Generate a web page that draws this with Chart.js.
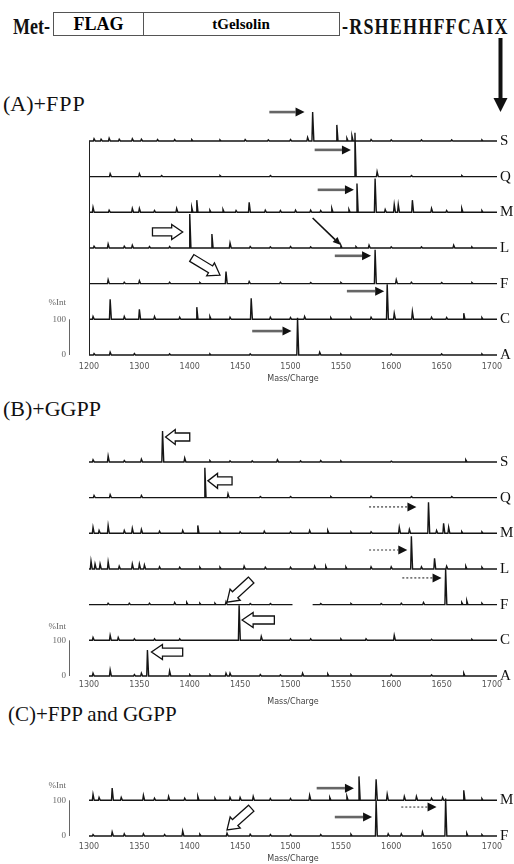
<!DOCTYPE html>
<html>
<head>
<meta charset="utf-8">
<script src="https://cdn.jsdelivr.net/npm/chart.js@4.4.0/dist/chart.umd.min.js"></script>
<style>
  body { margin: 0; width: 514px; height: 864px; background: #fff; position: relative; overflow: hidden; font-family: "Liberation Serif", serif; }
  .t { position: absolute; white-space: nowrap; line-height: 1; color: #111; }
  .box { position: absolute; border: 1px solid #555; box-sizing: border-box; font: bold 15px "Liberation Serif"; text-align: center; }
  canvas { position: absolute; left: 0; }
</style>
</head>
<body>

<!-- construct diagram -->
<div class="t" style="left:13px;top:14px;font:bold 18px 'Liberation Serif';transform:scaleY(1.25);transform-origin:left top;">Met-</div>
<div class="box" style="left:53px;top:12px;width:91px;height:24px;line-height:22px;font-size:18px;">FLAG</div>
<div class="box" style="left:143px;top:12px;width:197px;height:24px;line-height:22px;border-left:none;">tGelsolin</div>
<div class="t" style="left:342px;top:14px;font:bold 18px 'Liberation Serif';letter-spacing:1.2px;transform:scaleY(1.25);transform-origin:left top;">-RSHEHHFFCAIX</div>
<svg style="position:absolute;left:0;top:0" width="514" height="120">
  <line x1="500.5" y1="38" x2="500.5" y2="100" stroke="#111" stroke-width="4"/>
  <polygon points="493.5,98 507.5,98 500.5,112" fill="#111"/>
</svg>

<div class="t" style="left:3px;top:93px;font-size:22px;">(A)+<span style="letter-spacing:1px">FPP</span></div>
<div class="t" style="left:3px;top:398px;font-size:22px;">(B)+GGPP</div>
<div class="t" style="left:8px;top:704px;font-size:21px;">(C)+FPP and GGPP</div>

<canvas id="fpp" width="514" height="290" style="top:100px"></canvas>
<canvas id="ggpp" width="514" height="290" style="top:420px"></canvas>
<canvas id="both" width="514" height="104" style="top:760px"></canvas>

<script>
// mass axis
const X_MIN = 1300;
const X_MAX = 1705;
const massTicks = [1300, 1350, 1400, 1450, 1500, 1550, 1600, 1650, 1700];
const tickTextFpp = ['1200', '1300', '1400', '1450', '1500', '1550', '1600', '1650', '1700'];
const tickTextGgpp = ['1300', '1350', '1400', '1450', '1500', '1550', '1600', '1650', '1700'];

// (A) +FPP : peaks as [m/z, %int], traces top to bottom
const tracesFpp = ['S', 'Q', 'M', 'L', 'F', 'C', 'A'];
const fppS = [[1305,6],[1312,5],[1320,8],[1330,5],[1343,6],[1352,5],[1368,4],[1385,4],[1402,4],[1430,3],[1455,4],[1478,3],[1500,4],[1517,10],[1522,81],[1546,45],[1556,8],[1561,14],[1580,4],[1600,3],[1630,3],[1660,3],[1690,3]];
const fppQ = [[1321,8],[1350,8],[1372,3],[1430,3],[1480,3],[1564,123],[1586,14],[1620,3],[1670,3]];
const fppM = [[1304,14],[1320,6],[1343,11],[1350,11],[1365,5],[1387,11],[1402,14],[1407,34],[1420,6],[1433,8],[1446,5],[1459,28],[1475,6],[1490,5],[1505,6],[1520,6],[1530,5],[1541,11],[1558,8],[1566,81],[1584,95],[1594,8],[1603,22],[1607,22],[1621,34],[1640,11],[1655,5],[1670,11],[1690,5]];
const fppL = [[1305,5],[1319,11],[1335,5],[1343,8],[1360,4],[1380,4],[1400,95],[1422,39],[1440,14],[1460,4],[1480,3],[1500,4],[1520,3],[1550,8],[1565,4],[1578,8],[1600,3],[1630,3],[1662,8],[1680,3]];
const fppF = [[1319,11],[1335,4],[1350,8],[1380,4],[1410,3],[1436,34],[1459,6],[1490,4],[1520,3],[1550,3],[1584,95],[1605,11],[1620,4],[1650,3],[1680,3]];
const fppC = [[1304,8],[1321,56],[1335,8],[1350,28],[1365,8],[1390,6],[1407,34],[1420,8],[1440,6],[1461,59],[1480,6],[1500,5],[1514,8],[1540,5],[1560,5],[1580,6],[1596,98],[1603,17],[1621,22],[1640,6],[1655,5],[1672,17],[1690,5]];
const fppA = [[1305,4],[1321,8],[1345,4],[1380,3],[1420,3],[1460,3],[1507,104],[1529,8],[1550,3],[1600,3],[1650,3],[1690,3]];

// (B) +GGPP
const tracesGgpp = ['S', 'Q', 'M', 'L', 'F', 'C', 'A'];
const ggppS = [[1304,6],[1319,17],[1335,4],[1352,8],[1373,87],[1395,11],[1420,4],[1440,3],[1462,3],[1487,6],[1510,3],[1530,4],[1550,3],[1600,2],[1674,6]];
const ggppQ = [[1305,6],[1321,8],[1352,6],[1415,84],[1438,11],[1470,3],[1500,3],[1540,3],[1580,4],[1620,3],[1660,3]];
const ggppM = [[1304,17],[1310,8],[1319,22],[1335,8],[1343,14],[1352,11],[1370,6],[1393,8],[1408,22],[1430,4],[1450,4],[1474,6],[1500,4],[1519,8],[1537,8],[1560,4],[1580,4],[1608,17],[1618,11],[1637,87],[1645,8],[1652,28],[1657,17],[1670,5],[1690,4]];
const ggppL = [[1302,22],[1306,14],[1311,14],[1319,20],[1330,8],[1343,14],[1350,14],[1355,11],[1370,6],[1390,5],[1410,5],[1430,5],[1454,8],[1475,5],[1500,5],[1524,8],[1535,8],[1555,6],[1580,6],[1600,6],[1620,92],[1630,6],[1643,30],[1655,8],[1674,8],[1690,5]];
const ggppF = [[1319,4],[1340,4],[1360,4],[1385,6],[1397,6],[1410,4],[1425,4],[1436,8],[1460,3],[1480,3],[1530,3],[1560,3],[1590,3],[1610,4],[1632,6],[1654,100],[1670,6],[1675,11],[1690,4]];
const ggppC = [[1304,8],[1321,14],[1329,8],[1345,4],[1365,4],[1390,4],[1449,98],[1471,11],[1500,4],[1520,4],[1550,4],[1575,4],[1603,14],[1640,3],[1680,3]];
const ggppA = [[1304,8],[1321,17],[1345,4],[1352,8],[1358,73],[1380,14],[1400,4],[1420,4],[1436,8],[1440,8],[1470,4],[1490,3],[1512,8],[1537,6],[1560,4],[1600,4],[1640,3],[1672,8]];
const ggppFGap = [1502, 1522];

// (C) +FPP and GGPP
const tracesBoth = ['M', 'F'];
const bothM = [[1304,17],[1310,8],[1323,34],[1332,8],[1354,14],[1365,6],[1379,11],[1395,6],[1408,11],[1425,6],[1440,8],[1450,8],[1463,11],[1480,5],[1500,5],[1519,14],[1539,8],[1556,11],[1568,67],[1585,59],[1596,17],[1613,11],[1625,11],[1640,6],[1651,8],[1672,28],[1690,5]];
const bothF = [[1304,4],[1323,11],[1335,6],[1354,6],[1375,4],[1393,14],[1410,5],[1437,8],[1460,5],[1480,4],[1500,4],[1530,4],[1560,5],[1585,100],[1597,6],[1610,6],[1631,11],[1654,105],[1675,8],[1690,4]];

// arrows in data units: [m/z, stacked intensity] (each trace is 100 above the next)
const arrowsFpp = [
  { from: [1479, 681], to: [1514, 681], kind: 'solid' },
  { from: [1524, 575], to: [1560, 575], kind: 'solid' },
  { from: [1527, 463], to: [1563, 463], kind: 'solid' },
  { from: [1363, 345], to: [1393, 345], kind: 'hollow' },
  { from: [1522, 384], to: [1550, 308], kind: 'line' },
  { from: [1544, 278], to: [1580, 278], kind: 'solid' },
  { from: [1402, 272], to: [1430, 224], kind: 'hollow' },
  { from: [1556, 179], to: [1593, 179], kind: 'solid' },
  { from: [1462, 67], to: [1501, 67], kind: 'solid' }
];
const arrowsGgpp = [
  { from: [1400, 670], to: [1376, 670], kind: 'hollow' },
  { from: [1442, 547], to: [1418, 547], kind: 'hollow' },
  { from: [1578, 474], to: [1625, 474], kind: 'dotted' },
  { from: [1578, 353], to: [1616, 353], kind: 'dotted' },
  { from: [1611, 275], to: [1650, 275], kind: 'dotted' },
  { from: [1461, 269], to: [1437, 207], kind: 'hollow' },
  { from: [1484, 157], to: [1452, 157], kind: 'hollow' },
  { from: [1393, 67], to: [1362, 67], kind: 'hollow' }
];
const arrowsBoth = [
  { from: [1526, 134], to: [1563, 134], kind: 'solid' },
  { from: [1544, 53], to: [1581, 53], kind: 'solid' },
  { from: [1610, 81], to: [1645, 81], kind: 'dotted' },
  { from: [1461, 78], to: [1437, 17], kind: 'hollow' }
];

// turn a peak list into a stick spectrum sitting on its offset
function tracePoints(peaks, offset, gap) {
  let pts = [{ x: X_MIN, y: offset }];
  peaks.slice().sort((a, b) => a[0] - b[0]).forEach(([m, h]) => {
    pts.push({ x: m - 0.7, y: offset }, { x: m, y: offset + h }, { x: m + 1.2, y: offset });
  });
  pts.push({ x: X_MAX, y: offset });
  if (gap) {
    const before = pts.filter(p => p.x < gap[0]);
    const after = pts.filter(p => p.x > gap[1]);
    pts = before.concat([{ x: gap[0], y: offset }, { x: (gap[0] + gap[1]) / 2, y: null }, { x: gap[1], y: offset }], after);
  }
  return pts;
}

function drawArrow(ctx, x1, y1, x2, y2, kind) {
  const len = Math.hypot(x2 - x1, y2 - y1);
  const ux = (x2 - x1) / len, uy = (y2 - y1) / len;
  const nx = -uy, ny = ux;
  if (kind === 'hollow') {
    const w = 4, hw = 7.5, hl = Math.min(11, len * 0.4);
    const kx = x2 - ux * hl, ky = y2 - uy * hl;
    ctx.beginPath();
    ctx.moveTo(x1 + nx * w, y1 + ny * w);
    ctx.lineTo(kx + nx * w, ky + ny * w);
    ctx.lineTo(kx + nx * hw, ky + ny * hw);
    ctx.lineTo(x2, y2);
    ctx.lineTo(kx - nx * hw, ky - ny * hw);
    ctx.lineTo(kx - nx * w, ky - ny * w);
    ctx.lineTo(x1 - nx * w, y1 - ny * w);
    ctx.closePath();
    ctx.fillStyle = '#fff';
    ctx.fill();
    ctx.strokeStyle = '#111';
    ctx.lineWidth = 1.3;
    ctx.setLineDash([]);
    ctx.stroke();
    return;
  }
  const hl = kind === 'line' ? 8 : 9, hw = kind === 'line' ? 3.5 : 4.5;
  const kx = x2 - ux * hl, ky = y2 - uy * hl;
  ctx.beginPath();
  ctx.moveTo(x1, y1);
  ctx.lineTo(kx, ky);
  if (kind === 'dotted') {
    ctx.setLineDash([2, 2]);
    ctx.strokeStyle = '#777';
    ctx.lineWidth = 1.6;
  } else if (kind === 'line') {
    ctx.setLineDash([]);
    ctx.strokeStyle = '#111';
    ctx.lineWidth = 1.6;
  } else {
    ctx.setLineDash([]);
    ctx.strokeStyle = '#666';
    ctx.lineWidth = 2.6;
  }
  ctx.stroke();
  ctx.setLineDash([]);
  ctx.beginPath();
  ctx.moveTo(x2, y2);
  ctx.lineTo(kx + nx * hw, ky + ny * hw);
  ctx.lineTo(kx - nx * hw, ky - ny * hw);
  ctx.closePath();
  ctx.fillStyle = '#111';
  ctx.fill();
}

const marks = {
  id: 'marks',
  afterDatasetsDraw(chart, args, opts) {
    const { ctx } = chart;
    const xs = chart.scales.x, ys = chart.scales.y;
    ctx.save();
    // short intensity bar next to the bottom trace
    const bx = ys.right - 19.5;
    ctx.strokeStyle = '#666';
    ctx.lineWidth = 1;
    ctx.beginPath();
    ctx.moveTo(bx, ys.getPixelForValue(0));
    ctx.lineTo(bx, ys.getPixelForValue(100));
    ctx.stroke();
    if (opts.frame) {
      ctx.strokeStyle = '#222';
      ctx.beginPath();
      ctx.moveTo(xs.left + 0.5, ys.getPixelForValue(opts.frame[0]));
      ctx.lineTo(xs.left + 0.5, ys.getPixelForValue(opts.frame[1]));
      ctx.stroke();
    }
    (opts.arrows || []).forEach(a => {
      drawArrow(ctx, xs.getPixelForValue(a.from[0]), ys.getPixelForValue(a.from[1]),
        xs.getPixelForValue(a.to[0]), ys.getPixelForValue(a.to[1]), a.kind);
    });
    ctx.restore();
  }
};

// keep the layout from reserving room for edge labels
function noEdgePadding(s) {
  s.paddingTop = 0;
  s.paddingBottom = 0;
  s.paddingLeft = 0;
  s.paddingRight = 0;
}

function spectrumChart(id, letters, peakLists, cfg) {
  const n = letters.length;
  const offsets = letters.map((l, i) => (n - 1 - i) * 100);
  const datasets = letters.map((l, i) => ({
    label: l,
    data: tracePoints(peakLists[i], offsets[i], cfg.gaps && cfg.gaps[l]),
    borderColor: '#151515',
    borderWidth: 1.4,
    pointRadius: 0,
    tension: 0,
    spanGaps: false,
    clip: false
  }));
  return new Chart(document.getElementById(id), {
    type: 'line',
    data: { datasets },
    plugins: [marks],
    options: {
      responsive: false,
      animation: false,
      devicePixelRatio: 1,
      layout: { padding: { top: cfg.padTop, bottom: 0, left: 0, right: 0 } },
      plugins: {
        legend: { display: false },
        tooltip: { enabled: false },
        marks: { arrows: cfg.arrows, frame: cfg.frame }
      },
      scales: {
        x: {
          type: 'linear',
          min: X_MIN,
          max: X_MAX,
          grid: { display: false, drawTicks: false },
          border: { display: false },
          afterBuildTicks: s => { s.ticks = massTicks.map(v => ({ value: v })); },
          afterFit: s => { s.height = cfg.xHeight; noEdgePadding(s); },
          ticks: {
            autoSkip: false,
            maxRotation: 0,
            padding: cfg.tickPad,
            color: '#555',
            font: { family: 'DejaVu Sans', size: 8 },
            callback: (v, i) => cfg.tickText[i]
          },
          title: {
            display: true,
            text: 'Mass/Charge',
            color: '#444',
            padding: { top: 0, bottom: cfg.titlePad },
            font: { family: 'DejaVu Sans', size: 8 }
          }
        },
        y: {
          position: 'left',
          min: -4,
          max: cfg.yMax,
          grid: { display: false, drawTicks: false },
          border: { display: false },
          afterBuildTicks: s => { s.ticks = [{ value: 0 }, { value: 100 }, { value: cfg.intAt }]; },
          afterFit: s => { s.width = 89; noEdgePadding(s); },
          ticks: {
            autoSkip: false,
            padding: 23,
            color: '#666',
            font: { family: 'Liberation Serif', size: 9 },
            callback: v => (v === 0 ? '0' : v === 100 ? '100' : '%Int')
          }
        },
        y2: {
          position: 'right',
          min: -4,
          max: cfg.yMax,
          grid: { display: false, drawTicks: false },
          border: { display: false },
          afterBuildTicks: s => { s.ticks = offsets.map(v => ({ value: v })); },
          afterFit: s => { s.width = 17; noEdgePadding(s); },
          ticks: {
            autoSkip: false,
            padding: 3,
            color: '#111',
            font: { family: 'Liberation Serif', size: 15 },
            callback: v => letters[offsets.indexOf(v)]
          }
        }
      }
    }
  });
}

spectrumChart('fpp', tracesFpp, [fppS, fppQ, fppM, fppL, fppF, fppC, fppA], {
  yMax: 700, intAt: 146, padTop: 5.3, xHeight: 33.6, tickPad: 6, titlePad: 6,
  tickText: tickTextFpp, arrows: arrowsFpp, frame: [0, 600]
});

spectrumChart('ggpp', tracesGgpp, [ggppS, ggppQ, ggppM, ggppL, ggppF, ggppC, ggppA], {
  yMax: 700, intAt: 137, padTop: 6.3, xHeight: 32.6, tickPad: 3, titlePad: 3,
  tickText: tickTextGgpp, arrows: arrowsGgpp, gaps: { F: ggppFGap }
});

spectrumChart('both', tracesBoth, [bothM, bothF], {
  yMax: 200, intAt: 140, padTop: 4.6, xHeight: 26.6, tickPad: 5, titlePad: 0,
  tickText: tickTextGgpp, arrows: arrowsBoth
});
</script>
</body>
</html>
